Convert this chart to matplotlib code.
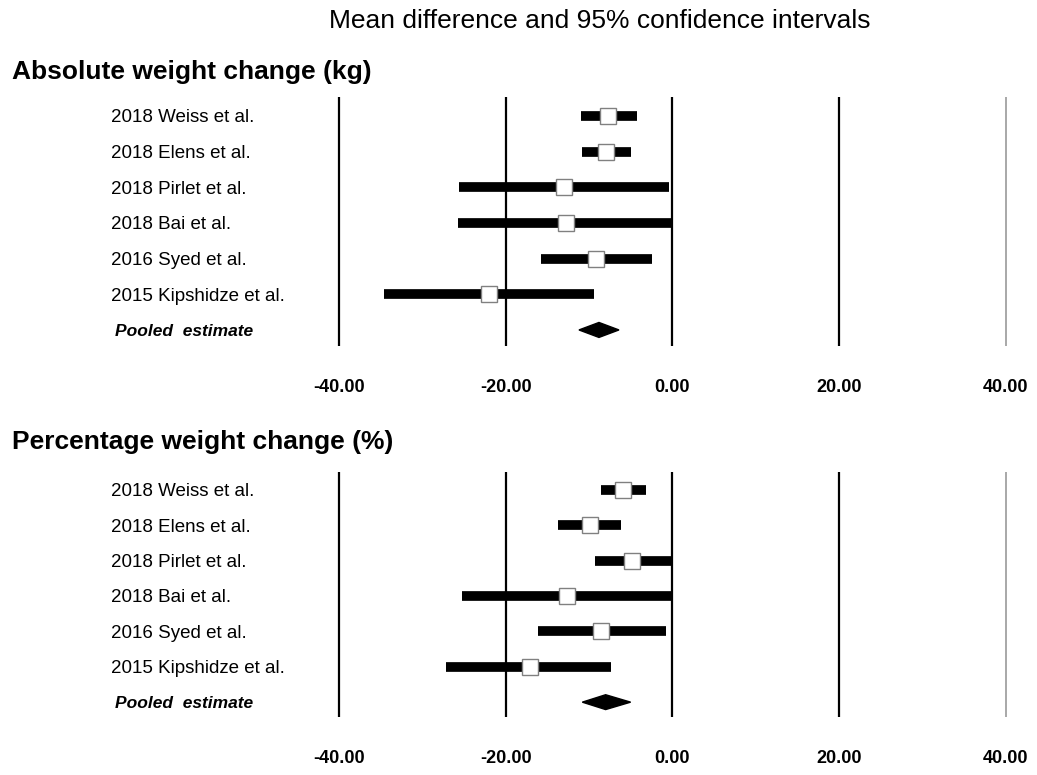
#!/usr/bin/env python3
"""Forest plot: mean difference and 95% CI for weight change."""

import matplotlib

matplotlib.use("Agg")
import matplotlib.pyplot as plt
from matplotlib.patches import Polygon
from matplotlib.transforms import blended_transform_factory

plt.rcParams["font.family"] = ["Liberation Sans", "DejaVu Sans"]

studies = [
    "2018 Weiss et al.",
    "2018 Elens et al.",
    "2018 Pirlet et al.",
    "2018 Bai et al.",
    "2016 Syed et al.",
    "2015 Kipshidze et al.",
]
pooled_label = "Pooled  estimate"

# absolute weight change (kg)
abs_mean = [-7.7, -7.9, -13.0, -12.8, -9.1, -22.0]
abs_lo = [-11.0, -10.8, -25.6, -25.7, -15.8, -34.6]
abs_hi = [-4.2, -4.9, -0.4, 0.0, -2.4, -9.4]
abs_pooled = (-8.8, -11.2, -6.4)

# percentage weight change (%)
pct_mean = [-5.9, -9.9, -4.8, -12.6, -8.5, -17.1]
pct_lo = [-8.5, -13.7, -9.3, -25.2, -16.1, -27.1]
pct_hi = [-3.2, -6.1, 0.0, 0.0, -0.8, -7.3]
pct_pooled = (-8.0, -10.8, -5.0)

ticks = [-40, -20, 0, 20, 40]
tick_labels = ["-40.00", "-20.00", "0.00", "20.00", "40.00"]

W, H = 1037, 775
fig = plt.figure(figsize=(W / 100, H / 100), dpi=100)


def panel(top_px, bot_px, ylim, heading, head_y, mean, lo, hi, pooled):
    ax = fig.add_axes([322.3 / W, 1 - bot_px / H, 700 / W, (bot_px - top_px) / H])
    ax.set_xlim(-42, 42)
    ax.set_ylim(*ylim)
    for s in ax.spines.values():
        s.set_visible(False)
    ax.set_yticks([])
    ax.set_xticks(ticks)
    ax.set_xticklabels(tick_labels, fontsize=13, fontweight="bold")
    ax.tick_params(axis="x", length=0, pad=24)

    for t in ticks:
        if t == 40:
            ax.axvline(t, color="#9a9a9a", lw=1.2, zorder=1)
        else:
            ax.axvline(t, color="black", lw=1.6, zorder=1)

    rows = list(range(len(studies)))
    ax.hlines(rows, lo, hi, color="black", lw=7, capstyle="butt", zorder=2)
    ax.plot(mean, rows, "s", ms=11, mfc="white", mec="#808080", mew=1.0,
            zorder=3, linestyle="none")

    c, a, b = pooled
    yp = len(studies)
    ax.add_patch(Polygon([(a, yp), (c, yp - 0.21), (b, yp), (c, yp + 0.21)],
                         closed=True, color="black", zorder=3))

    tr = blended_transform_factory(fig.transFigure, ax.transData)
    for i, name in enumerate(studies):
        ax.text(111 / W, i + 0.05, name, transform=tr, ha="left", va="center",
                fontsize=13.5)
    ax.text(115 / W, yp + 0.05, pooled_label, transform=tr, ha="left",
            va="center", fontsize=12.5, fontweight="bold", style="italic")

    fig.text(12 / W, 1 - head_y / H, heading, ha="left", va="center",
             fontsize=19, fontweight="bold")
    return ax


panel(97, 346, (6.45, -0.53), "Absolute weight change (kg)", 72,
      abs_mean, abs_lo, abs_hi, abs_pooled)
panel(472, 717, (6.42, -0.51), "Percentage weight change (%)", 442,
      pct_mean, pct_lo, pct_hi, pct_pooled)

fig.text(600 / W, 1 - 21 / H, "Mean difference and 95% confidence intervals",
         ha="center", va="center", fontsize=19)

fig.savefig("out.png", dpi=100)
